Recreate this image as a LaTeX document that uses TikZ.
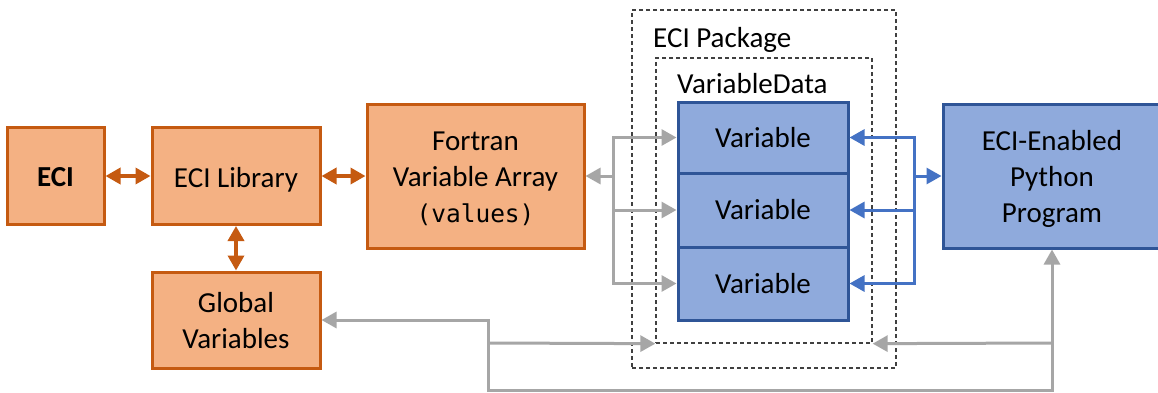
\documentclass[tikz,border=0pt]{standalone}
\usepackage{fontspec}
\setmainfont{Carlito}
\newfontfamily\codefont{DejaVu Sans Mono}
\usetikzlibrary{arrows.meta}

\definecolor{ofill}{HTML}{F4B183}
\definecolor{oline}{HTML}{C55A11}
\definecolor{bfill}{HTML}{8FAADC}
\definecolor{bline}{HTML}{2F5597}
\definecolor{barrow}{HTML}{4472C4}
\definecolor{garrow}{HTML}{A6A6A6}
\definecolor{dashc}{HTML}{404040}

\tikzset{
  obox/.style={draw=oline, fill=ofill, line width=3pt, inner sep=0pt},
  bbox/.style={draw=bline, fill=bfill, line width=3pt, align=center,
    inner sep=0pt},
  txt/.style={align=center, inner sep=0pt},
  group/.style={draw=dashc, line width=1.3pt, dash pattern=on 4pt off 3pt,
    inner sep=0pt},
  otip/.tip={Triangle[length=15pt,width=16pt]},
  gtip/.tip={Triangle[length=15pt,width=16pt]},
  btip/.tip={Triangle[length=15pt,width=16pt]},
  oarr/.style={draw=oline, line width=3.5pt, otip-otip},
  garr/.style={draw=garrow, line width=3pt, -gtip},
  gboth/.style={draw=garrow, line width=3pt, gtip-gtip},
  barr/.style={draw=barrow, line width=3pt, -btip},
  grouptitle/.style={anchor=base west, inner sep=0pt},
}

\begin{document}
\begin{tikzpicture}[x=1pt, y=-1pt, font=\fontsize{29}{36}\selectfont]
\useasboundingbox[fill=white] (0,0) rectangle (1158,392);

% dashed groupings
\node[group, minimum width=264pt, minimum height=358pt] (pkg) at (764,189) {};
\node[group, minimum width=216pt, minimum height=285pt] (vd) at (764,200.5) {};
\node[grouptitle] (pkgtitle) at (653,47) {ECI Package};
\node[grouptitle] (vdtitle) at (677,93) {VariableData};

% Fortran side: boxes first, their texts set slightly low in the box
\node[obox, minimum width=97pt, minimum height=97pt,
  label={[txt, yshift=-1.5pt]center:\textbf{ECI}}] (eci) at (55.5,176) {};
\node[obox, minimum width=168pt, minimum height=97pt,
  label={[txt, yshift=-3.5pt]center:ECI Library}] (lib) at (236,176) {};
\node[obox, minimum width=168pt, minimum height=96pt,
  label={[txt, yshift=-1pt]center:Global\\Variables}] (glob) at (236,320) {};
\node[obox, minimum width=217pt, minimum height=144pt,
  label={[txt, yshift=-3pt]center:Fortran\\Variable Array\\{\codefont\fontsize{24.5}{36}\selectfont(values)}}]
  (fort) at (475.5,176) {};

% variables
\node[bbox, minimum width=170pt, minimum height=71pt] (v1) at (763,137.5) {Variable};
\node[bbox, minimum width=170pt, minimum height=74pt] (v2) at (763,210) {Variable};
\node[bbox, minimum width=170pt, minimum height=73pt] (v3) at (763,283.5) {Variable};

% Python program (runs off the right edge)
\node[bbox, minimum width=218pt, minimum height=144pt,
  label={[txt, yshift=-3pt]center:ECI-Enabled\\Python\\Program}] (py) at (1052,176) {};

% orange links
\draw[oarr] (eci.east) -- (lib.west);
\draw[oarr] (lib.east) -- (fort.west);
\draw[oarr] (lib.south) -- (glob.north);

% grey fan between the array and the variables
\coordinate (gt) at (613,176);
\draw[garr] (gt) -- (fort.east);
\draw[garr] (gt) |- (v1.west);
\draw[garr] (gt) |- (v2.west);
\draw[garr] (gt) |- (v3.west);

% blue fan between the program and the variables
\coordinate (bt) at (914,176);
\draw[barr] (bt) -- (py.west);
\draw[barr] (bt) |- (v1.east);
\draw[barr] (bt) |- (v2.east);
\draw[barr] (bt) |- (v3.east);

% grey loop along the bottom
\coordinate (lowleft) at (488,390);
\coordinate (jl) at (488,343);
\coordinate (jr) at (1052,343);
\draw[gboth] (glob.east) -| (lowleft) -| (py.south);
\draw[garr] (jl) -- (vd.south west);
\draw[garr] (jr) -- (vd.south east);
\end{tikzpicture}
\end{document}
